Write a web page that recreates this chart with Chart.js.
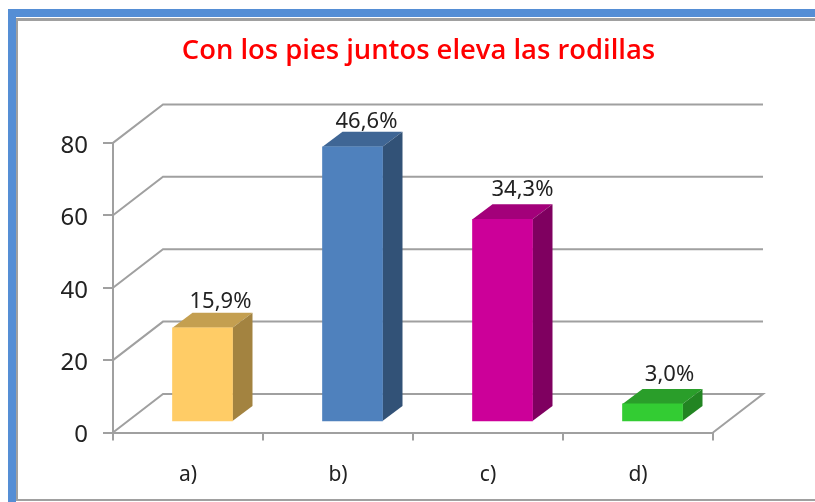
<!DOCTYPE html>
<html><head><meta charset="utf-8">
<script src="https://cdn.jsdelivr.net/npm/chart.js@4"></script>
<style>
html,body{margin:0;padding:0;background:#fff;width:815px;height:502px;overflow:hidden}
#blue{position:absolute;left:8px;top:9px;width:807px;height:493px;box-sizing:border-box;border-left:8px solid #558ed5;border-top:8px solid #558ed5}
#gray{position:absolute;left:16px;top:18px;width:799px;height:483px;box-sizing:border-box;border:solid #a0a0a0;border-width:3px 0 2px 2px}
canvas{position:absolute;left:0;top:0}
</style></head><body>
<div id="blue"></div><div id="gray"></div>
<canvas id="c" width="815" height="502"></canvas>
<script>
const categories = ['a)', 'b)', 'c)', 'd)'];
const values = [26, 76, 56, 5];
const percentLabels = ['15,9%', '46,6%', '34,3%', '3,0%'];
const yTicks = [0, 20, 40, 60, 80];
const frontColors = ['#ffcc66', '#4f81bd', '#cc0099', '#33cc33'];
const topColors = ['#c49f50', '#3f6695', '#a3007a', '#2a9e2a'];
const sideColors = ['#a38340', '#325277', '#7f0060', '#228522'];
const titleText = 'Con los pies juntos eleva las rodillas';

const WALL_DX = 50, WALL_DY = -38.5, BAR_SHIFT_X = 14.5, BAR_SHIFT_Y = -10.5, DEPTH_X = 20, DEPTH_Y = -15;
const LABEL_NUDGE_X = [18, 14, 20, 17], LABEL_NUDGE_Y = [-5, -4, -8, -8];
const GRID = '#a0a0a0';

const box3d = {
  id: 'box3d',
  afterLayout(chart) { chart.titleBlock.left = 22; chart.titleBlock.right = 815; },
  beforeDatasetsDraw(chart) {
    const {ctx, scales: {x, y}} = chart;
    ctx.save();
    ctx.strokeStyle = GRID; ctx.lineWidth = 2;
    yTicks.forEach(v => {
      const p = y.getPixelForValue(v);
      ctx.beginPath();
      ctx.moveTo(x.left, p);
      ctx.lineTo(x.left + WALL_DX, p + WALL_DY);
      ctx.lineTo(x.right + WALL_DX, p + WALL_DY);
      if (v === 0) ctx.lineTo(x.right, p);
      ctx.stroke();
    });
    ctx.restore();
    ctx.save();
    ctx.translate(BAR_SHIFT_X, BAR_SHIFT_Y);
    chart.getDatasetMeta(0).data.forEach((bar, i) => {
      const l = bar.x - bar.width / 2, r = bar.x + bar.width / 2, t = bar.y, b = bar.base;
      ctx.fillStyle = topColors[i];
      ctx.beginPath();
      ctx.moveTo(l, t); ctx.lineTo(l + DEPTH_X, t + DEPTH_Y); ctx.lineTo(r + DEPTH_X, t + DEPTH_Y); ctx.lineTo(r, t);
      ctx.closePath(); ctx.fill();
      ctx.fillStyle = sideColors[i];
      ctx.beginPath();
      ctx.moveTo(r, t); ctx.lineTo(r + DEPTH_X, t + DEPTH_Y); ctx.lineTo(r + DEPTH_X, b + DEPTH_Y); ctx.lineTo(r, b);
      ctx.closePath(); ctx.fill();
    });
  },
  afterDatasetsDraw(chart) {
    const {ctx} = chart;
    ctx.restore();
    ctx.save();
    ctx.font = '22px "Noto Sans"';
    ctx.fillStyle = '#222';
    ctx.textAlign = 'center';
    ctx.textBaseline = 'alphabetic';
    chart.getDatasetMeta(0).data.forEach((bar, i) => {
      ctx.fillText(percentLabels[i], bar.x + BAR_SHIFT_X + LABEL_NUDGE_X[i], bar.y + BAR_SHIFT_Y + DEPTH_Y + LABEL_NUDGE_Y[i]);
    });
    ctx.restore();
  }
};

new Chart(document.getElementById('c'), {
  type: 'bar',
  data: { labels: categories, datasets: [{ data: values, backgroundColor: frontColors, borderWidth: 0, barThickness: 60, clip: false }] },
  plugins: [box3d],
  options: {
    responsive: false, animation: false,
    layout: { padding: { left: 0, right: 102, top: 0, bottom: 0 } },
    plugins: {
      legend: { display: false }, tooltip: { enabled: false },
      title: { display: true, text: titleText, color: '#ff0000', font: { family: '"Open Sans"', size: 27.4, weight: '600' }, padding: { top: 35, bottom: 75 } }
    },
    scales: {
      x: {
        grid: { display: true, offset: true, drawOnChartArea: false, drawTicks: true, tickLength: 8, color: GRID, lineWidth: 2 },
        border: { display: true, color: GRID, width: 2 },
        ticks: { color: '#222', font: { family: '"Noto Sans"', size: 21 }, padding: 22, maxRotation: 0 },
        afterFit(s) { s.height = 69.5; }
      },
      y: {
        min: 0, max: 80,
        grid: { display: true, drawOnChartArea: false, drawTicks: true, tickLength: 10, color: GRID, lineWidth: 2 },
        border: { display: true, color: GRID, width: 2 },
        ticks: { stepSize: 20, color: '#222', font: { family: '"Noto Sans"', size: 24 }, padding: 15, labelOffset: 3 },
        afterFit(s) { s.width = 113; }
      }
    }
  }
});
</script>
</body></html>
